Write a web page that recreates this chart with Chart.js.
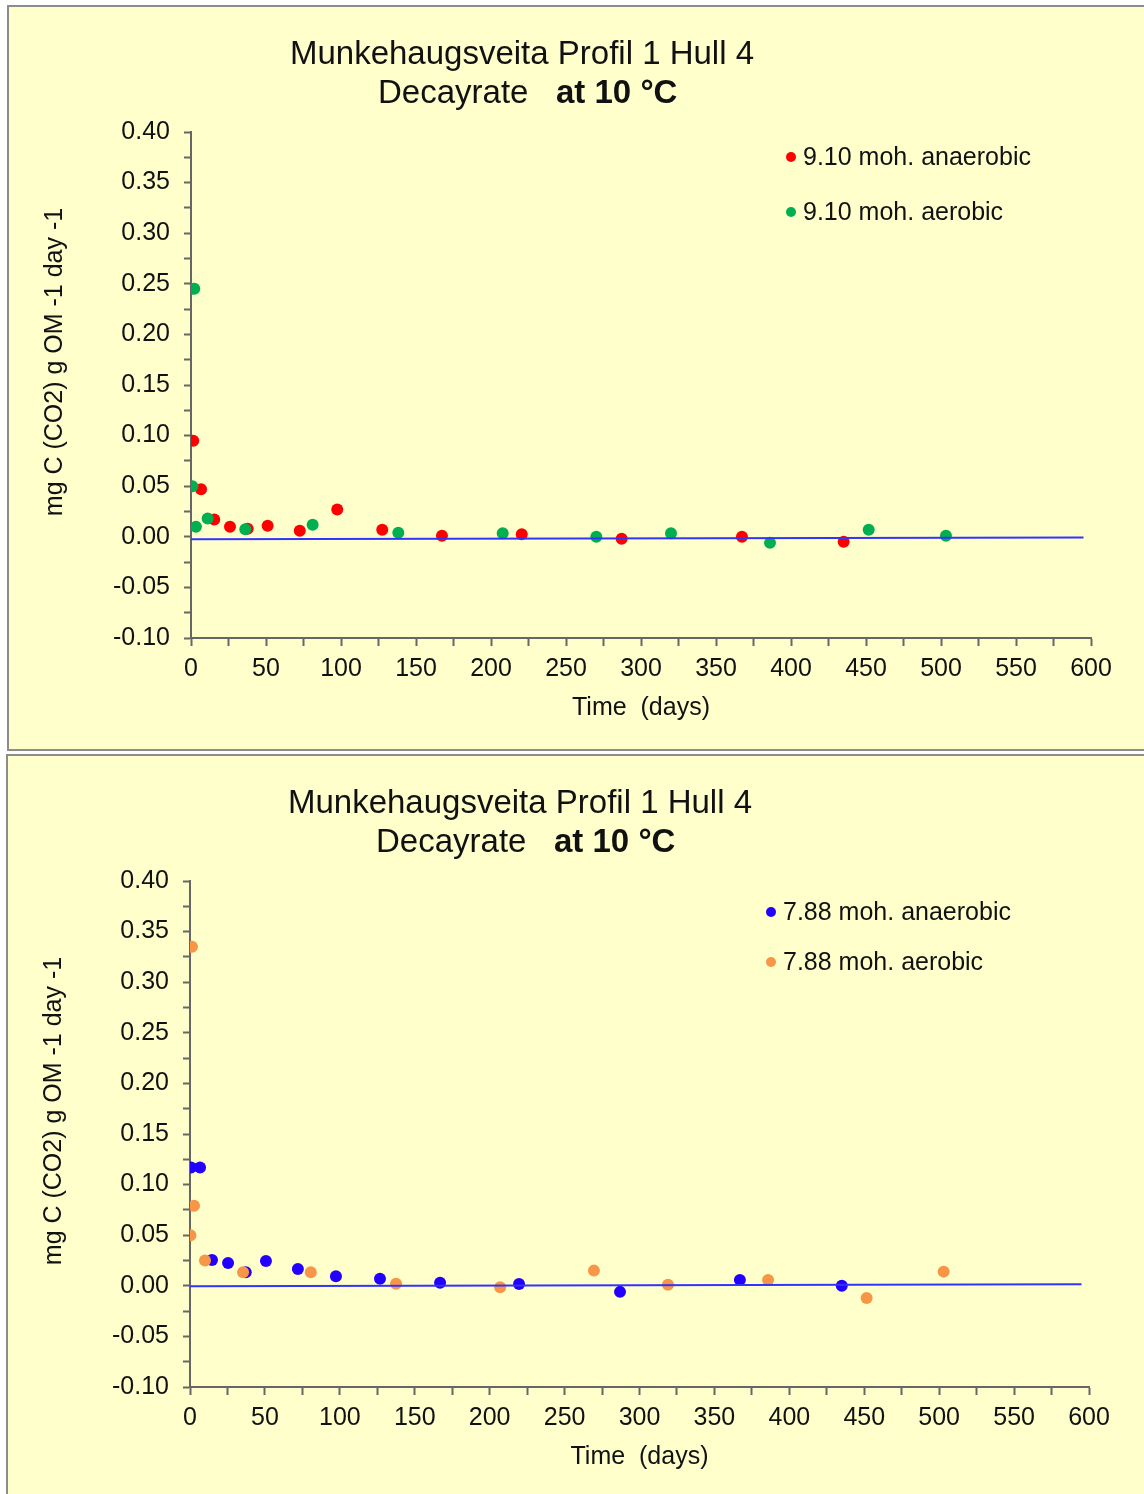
<!DOCTYPE html>
<html>
<head>
<meta charset="utf-8">
<title>Munkehaugsveita Profil 1 Hull 4</title>
<script src="https://cdn.jsdelivr.net/npm/chart.js@4.4.1/dist/chart.umd.min.js"></script>
<style>
  body {
    margin: 0;
    width: 1144px;
    height: 1494px;
    overflow: hidden;
    position: relative;
    background: #ffffff;
  }

  .panel {
    position: absolute;
    background: #ffffcc;
    border: 2px solid #8c8c8c;
    overflow: hidden;
  }

  #panel1 { left: 7px; top: 5px; width: 1150px; height: 742px; }
  #panel2 { left: 6px; top: 754px; width: 1150px; height: 760px; }

  canvas { display: block; }
</style>
</head>
<body>

<div class="panel" id="panel1"><canvas id="chart1" width="1135" height="742"></canvas></div>
<div class="panel" id="panel2"><canvas id="chart2" width="1136" height="742"></canvas></div>

<script>
// profile 9.10 moh.
const topAnaerobicDays = [1.5, 6.7, 15.5, 26, 37.8, 51.1, 72.5, 97.5, 127.5, 167.3, 220.5, 287.1, 367.3, 435.1]
const topAnaerobicRate = [0.095, 0.047, 0.017, 0.010, 0.008, 0.011, 0.006, 0.027, 0.007, 0.001, 0.0025, -0.002, 0.000, -0.005]

const topAerobicDays = [2.2, 0.9, 3.3, 11.1, 36.2, 81.1, 138.2, 207.8, 270.2, 320, 386, 451.8, 503.3]
const topAerobicRate = [0.245, 0.050, 0.010, 0.018, 0.0075, 0.012, 0.004, 0.0035, 0.000, 0.0035, -0.006, 0.007, 0.001]

const topTrendDays = [0, 595]
const topTrendRate = [-0.0023, -0.0007]

// profile 7.88 moh.
const bottomAnaerobicDays = [0.7, 6.7, 14.7, 25.4, 37.2, 50.7, 72, 97.4, 126.8, 166.9, 219.6, 287, 367, 435]
const bottomAnaerobicRate = [0.117, 0.117, 0.0255, 0.0225, 0.0135, 0.0245, 0.0165, 0.0095, 0.007, 0.003, 0.0018, -0.006, 0.0057, 0.000]

const bottomAerobicDays = [1.3, 2.7, 0.3, 10, 35.4, 80.6, 137.5, 207, 269.6, 319, 385.8, 451.6, 503]
const bottomAerobicRate = [0.335, 0.079, 0.050, 0.025, 0.0135, 0.0135, 0.002, -0.0015, 0.015, 0.001, 0.0057, -0.012, 0.014]

const bottomTrendDays = [0, 595]
const bottomTrendRate = [-0.0005, 0.0015]

const TITLE = "Munkehaugsveita Profil 1 Hull 4"
const SUBTITLE = "Decayrate"
const SUBTITLE_BOLD = "at 10 °C"
const X_TITLE = "Time  (days)"
const Y_TITLE = "mg C (CO2) g OM -1 day -1"

const FONT = "'Liberation Sans', Arial, sans-serif"
const TEXT = "#111111"
const AXIS = "#666666"


// pairs of arrays -> points
function points(days, rates) {
  return days.map(function (d, i) {
    return { x: d, y: rates[i] }
  })
}


// title, y title and legend drawn on the canvas
const decorPlugin = {
  id: "decor",
  afterDraw(chart, args, opts) {
    const ctx = chart.ctx

    ctx.save()
    ctx.fillStyle = TEXT
    ctx.textBaseline = "middle"

    // title lines
    ctx.font = "33px " + FONT
    ctx.textAlign = "center"
    ctx.fillText(TITLE, opts.titleX, 48)

    ctx.textAlign = "left"
    ctx.fillText(SUBTITLE, opts.subX, 87)
    ctx.font = "bold 33px " + FONT
    ctx.fillText(SUBTITLE_BOLD, opts.boldX, 87)

    // y axis title
    ctx.save()
    ctx.translate(46, 355)
    ctx.rotate(-Math.PI / 2)
    ctx.textAlign = "center"
    ctx.font = "25px " + FONT
    ctx.fillText(Y_TITLE, 0, 0)
    ctx.restore()

    // legend inside the plot
    ctx.font = "25px " + FONT
    ctx.textAlign = "left"
    opts.legendY.forEach(function (y, i) {
      const ds = chart.data.datasets[i + 1]

      ctx.fillStyle = ds.backgroundColor
      ctx.beginPath()
      ctx.arc(opts.legendX, y, 5, 0, Math.PI * 2)
      ctx.fill()

      ctx.fillStyle = TEXT
      ctx.fillText(ds.label, opts.legendX + 12, y + 1)
    })

    ctx.restore()
  },
}


// one decay chart
function drawChart(id, cfg) {
  const canvas = document.getElementById(id)

  new Chart(canvas, {
    type: "scatter",
    data: {
      datasets: [
        {
          type: "line",
          label: "trend",
          data: points(cfg.trendDays, cfg.trendRate),
          borderColor: "#3333ff",
          borderWidth: 2,
          pointRadius: 0,
          fill: false,
          order: 0,
        },
        {
          label: cfg.labelAnaerobic,
          data: points(cfg.anaerobicDays, cfg.anaerobicRate),
          backgroundColor: cfg.colorAnaerobic,
          pointRadius: 6,
          pointHoverRadius: 6,
          pointBorderWidth: 0,
          order: 2,
        },
        {
          label: cfg.labelAerobic,
          data: points(cfg.aerobicDays, cfg.aerobicRate),
          backgroundColor: cfg.colorAerobic,
          pointRadius: 6,
          pointHoverRadius: 6,
          pointBorderWidth: 0,
          order: 1,
        },
      ],
    },
    options: {
      responsive: false,
      animation: false,
      layout: {
        padding: { left: 0, top: 125, right: canvas.width - cfg.areaRight, bottom: 0 },
      },
      plugins: {
        legend: { display: false },
        tooltip: { enabled: false },
        title: { display: false },
        decor: cfg.decor,
      },
      scales: {
        x: {
          type: "linear",
          min: 0,
          max: 600,
          afterFit(scale) { scale.height = 111 },
          border: { display: true, color: AXIS, width: 2 },
          grid: { drawOnChartArea: false, drawTicks: true, tickLength: 8, tickColor: AXIS, tickWidth: 2 },
          ticks: {
            stepSize: 25,
            autoSkip: false,
            maxRotation: 0,
            padding: 8,
            color: TEXT,
            font: { family: FONT, size: 25 },
            callback: function (v) { return v % 50 === 0 ? String(v) : "" },
          },
          title: {
            display: true,
            text: X_TITLE,
            color: TEXT,
            font: { family: FONT, size: 25 },
            padding: { top: 0, bottom: 26 },
          },
        },
        y: {
          type: "linear",
          min: -0.1,
          max: 0.4,
          afterFit(scale) { scale.width = 182 },
          border: { display: true, color: AXIS, width: 2 },
          grid: { drawOnChartArea: false, drawTicks: true, tickLength: 7, tickColor: AXIS, tickWidth: 2 },
          ticks: {
            stepSize: 0.025,
            autoSkip: false,
            padding: 14,
            color: TEXT,
            font: { family: FONT, size: 25 },
            callback: function (v) {
              return Math.round(v * 1000) % 50 === 0 ? v.toFixed(2) : ""
            },
          },
        },
      },
    },
    plugins: [decorPlugin],
  })
}


drawChart("chart1", {
  anaerobicDays: topAnaerobicDays,
  anaerobicRate: topAnaerobicRate,
  aerobicDays: topAerobicDays,
  aerobicRate: topAerobicRate,
  trendDays: topTrendDays,
  trendRate: topTrendRate,
  labelAnaerobic: "9.10 moh. anaerobic",
  labelAerobic: "9.10 moh. aerobic",
  colorAnaerobic: "#ff0000",
  colorAerobic: "#00b050",
  areaRight: 1082,
  decor: { titleX: 513, subX: 369, boldX: 547, legendX: 782, legendY: [150, 205] },
})

drawChart("chart2", {
  anaerobicDays: bottomAnaerobicDays,
  anaerobicRate: bottomAnaerobicRate,
  aerobicDays: bottomAerobicDays,
  aerobicRate: bottomAerobicRate,
  trendDays: bottomTrendDays,
  trendRate: bottomTrendRate,
  labelAnaerobic: "7.88 moh. anaerobic",
  labelAerobic: "7.88 moh. aerobic",
  colorAnaerobic: "#2200ff",
  colorAerobic: "#f79646",
  areaRight: 1081,
  decor: { titleX: 512, subX: 368, boldX: 546, legendX: 763, legendY: [156, 206] },
})
</script>
</body>
</html>
